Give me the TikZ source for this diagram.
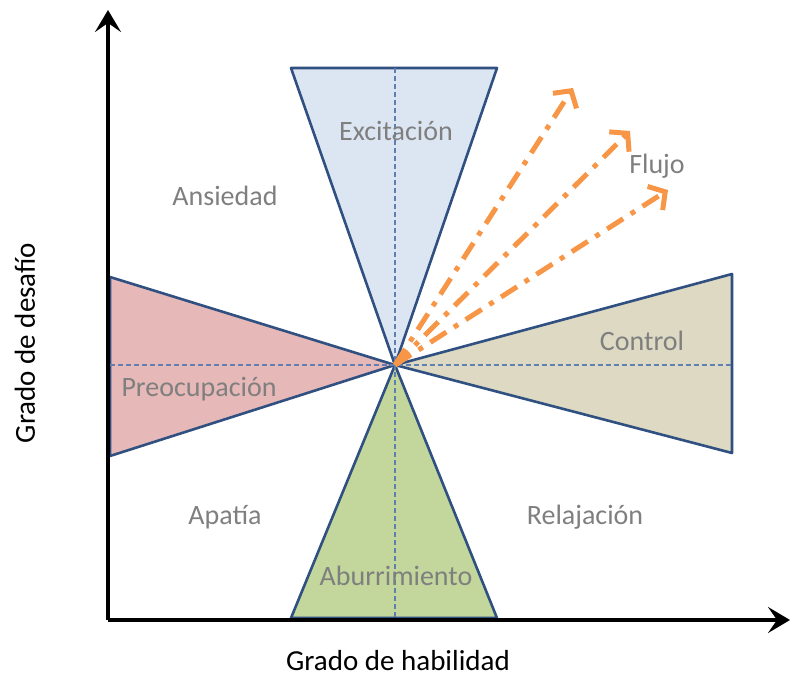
\documentclass[tikz,border=0pt]{standalone}
\usepackage{fontspec}
\setmainfont{Carlito}
\usetikzlibrary{arrows.meta}
\definecolor{edgeblue}{HTML}{2F5080}
\definecolor{dashblue}{HTML}{5F7FB0}
\definecolor{txtgray}{HTML}{7F7F7F}
\definecolor{flowor}{HTML}{F79646}
\definecolor{fillEX}{HTML}{DCE6F2}
\definecolor{fillAB}{HTML}{C3D69B}
\definecolor{fillPR}{HTML}{E6B9B8}
\definecolor{fillCO}{HTML}{DDD9C3}
\begin{document}
\begin{tikzpicture}[x=1pt,y=-1pt,font=\fontsize{28}{30}\selectfont]
	\tikzstyle{every node}=[inner sep=0pt,text=txtgray]
	\tikzstyle{zone}=[draw=edgeblue,line width=2.6pt,line join=round] % zone = triangle region
	\tikzstyle{guide}=[draw=dashblue,line width=1.1pt,dash pattern=on 5pt off 3pt]
	\tikzstyle{axis}=[draw=black,line width=4pt,-{Stealth[length=22pt,width=26pt,inset=9pt]}]
	\tikzstyle{flow}=[draw=flowor,line width=5pt,dash pattern=on 19pt off 9pt on 5pt off 9pt,-{Straight Barb[length=12pt,width=28pt,line width=5pt]}]
	\tikzstyle{axlabel}=[text=black,font=\fontsize{29}{31}\selectfont]
	\useasboundingbox (0,0) rectangle (792,679);
	% anchor points
	\coordinate (O) at (395,365);
	\coordinate (EXl) at (291,68);  \coordinate (EXr) at (497,68);
	\coordinate (ABl) at (291,618); \coordinate (ABr) at (497,618);
	\coordinate (PRt) at (110,277); \coordinate (PRb) at (110,456);
	\coordinate (COt) at (732,274); \coordinate (COb) at (732,453);
	\coordinate (Ax0) at (108,620); \coordinate (AxY) at (108,10); \coordinate (AxX) at (790,620);
	\coordinate (F1) at (573,88); \coordinate (F2) at (630,131); \coordinate (F3) at (668,190);
	% zones
	\filldraw[zone,fill=fillEX](O)--(EXl)--(EXr)--cycle;
	\filldraw[zone,fill=fillAB](O)--(ABl)--(ABr)--cycle;
	\filldraw[zone,fill=fillPR](O)--(PRt)--(PRb)--cycle;
	\filldraw[zone,fill=fillCO](O)--(COt)--(COb)--cycle;
	% guide lines
	\draw[guide](O|-EXl)--(O|-ABl);
	\draw[guide](PRt|-O)--(COt|-O);
	% axes
	\draw[axis](Ax0)--(AxY);
	\draw[axis](Ax0)--(AxX);
	% flow arrows
	\draw[flow](O)--(F1);
	\draw[flow](O)--(F2);
	\draw[flow](O)--(F3);
	% labels
	\node(exc) at (396,131){Excitación};
	\node(ans) at (225,196){Ansiedad};
	\node(flu) at (657,166){Flujo};
	\node(con) at (642,341){Control};
	\node(pre) at (199,389){Preocupación};
	\node(apa) at (225,517){Apatía};
	\node(rel) at (585,517){Relajación};
	\node(abu) at (396,576){Aburrimiento};
	\node(hab)[axlabel] at (398,661){Grado de habilidad};
	\node(des)[axlabel,rotate=90] at (25,343){Grado de desafío};
\end{tikzpicture}
\end{document}
